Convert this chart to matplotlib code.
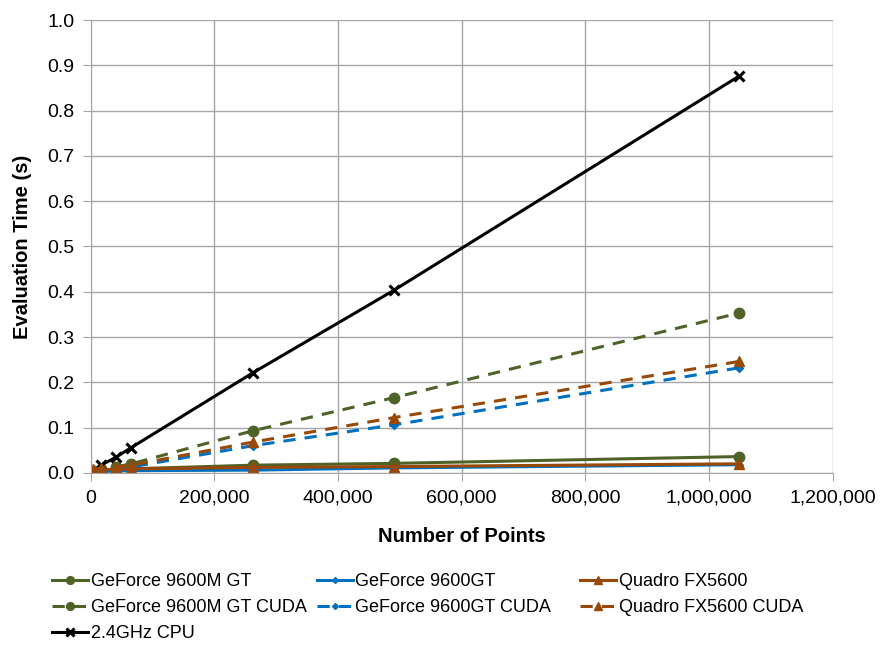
import matplotlib
matplotlib.use("Agg")
import matplotlib.pyplot as plt
from matplotlib.ticker import FuncFormatter, MultipleLocator

plt.rcParams['font.family'] = ['Liberation Sans', 'DejaVu Sans']

points = [4096, 16384, 40000, 65536, 262144, 490000, 1048576]

gf9600m = [0.004, 0.006, 0.007, 0.009, 0.017, 0.021, 0.036]
gf9600 = [0.002, 0.003, 0.004, 0.005, 0.006, 0.011, 0.018]
quadro = [0.005, 0.007, 0.008, 0.009, 0.012, 0.014, 0.020]
gf9600m_cuda = [0.005, 0.008, 0.013, 0.020, 0.093, 0.166, 0.353]
gf9600_cuda = [0.003, 0.005, 0.009, 0.013, 0.060, 0.106, 0.232]
quadro_cuda = [0.008, 0.010, 0.013, 0.017, 0.068, 0.122, 0.246]
cpu = [0.003, 0.017, 0.034, 0.056, 0.221, 0.403, 0.876]

green = '#4F6228'
blue = '#0070C0'
brown = '#984807'

fig = plt.figure(figsize=(8.82, 6.46), dpi=100)
ax = fig.add_axes([0.103, 0.268, 0.841, 0.701])

series = [
    (gf9600m, 'GeForce 9600M GT', green, '-', 'o', 7.5),
    (gf9600m_cuda, 'GeForce 9600M GT CUDA', green, '--', 'o', 7.5),
    (cpu, '2.4GHz CPU', 'black', '-', 'x', 7),
    (gf9600, 'GeForce 9600GT', blue, '-', 'D', 4),
    (gf9600_cuda, 'GeForce 9600GT CUDA', blue, '--', 'D', 4),
    (quadro, 'Quadro FX5600', brown, '-', '^', 7.5),
    (quadro_cuda, 'Quadro FX5600 CUDA', brown, '--', '^', 7.5),
]
lines = {}
for y, lab, col, ls, mk, ms in series:
    mew = 2.2 if mk == 'x' else 1
    ln, = ax.plot(points, y, color=col, linestyle=ls, linewidth=2.2, marker=mk,
                  markersize=ms, markeredgewidth=mew, label=lab,
                  dashes=(4, 3) if ls == '--' else (None, None))
    lines[lab] = ln

ax.set_xlim(0, 1200000)
ax.set_ylim(0, 1.0)
ax.xaxis.set_major_locator(MultipleLocator(200000))
ax.yaxis.set_major_locator(MultipleLocator(0.1))
ax.xaxis.set_major_formatter(FuncFormatter(lambda v, p: '{:,.0f}'.format(v)))
ax.yaxis.set_major_formatter(FuncFormatter(lambda v, p: '%.1f' % v))
ax.grid(True, color='#A6A6A6', linewidth=1)
ax.set_axisbelow(True)
for s in ['top', 'right']:
    ax.spines[s].set_visible(False)
for s in ['left', 'bottom']:
    ax.spines[s].set_color('#A6A6A6')
ax.tick_params(colors='#A6A6A6', labelcolor='black', labelsize=14, length=6,
               direction='out', pad=6)
ax.set_xlabel('Number of Points', fontsize=14.5, fontweight='bold', labelpad=15)
ax.set_ylabel('Evaluation Time (s)', fontsize=14.5, fontweight='bold', labelpad=11)

# one legend per column, like the Excel layout with equal column widths
columns = [
    ['GeForce 9600M GT', 'GeForce 9600M GT CUDA', '2.4GHz CPU'],
    ['GeForce 9600GT', 'GeForce 9600GT CUDA'],
    ['Quadro FX5600', 'Quadro FX5600 CUDA'],
]
col_x = [0.059, 0.359, 0.658]
for labs, x0 in zip(columns, col_x):
    fig.legend([lines[l] for l in labs], labs, loc='upper left',
               bbox_to_anchor=(x0, 0.113), frameon=False, fontsize=13,
               handlelength=2.0, handletextpad=0.15, borderpad=0,
               borderaxespad=0, labelspacing=0.5, markerscale=0.75)

fig.savefig('out.png', dpi=100)
